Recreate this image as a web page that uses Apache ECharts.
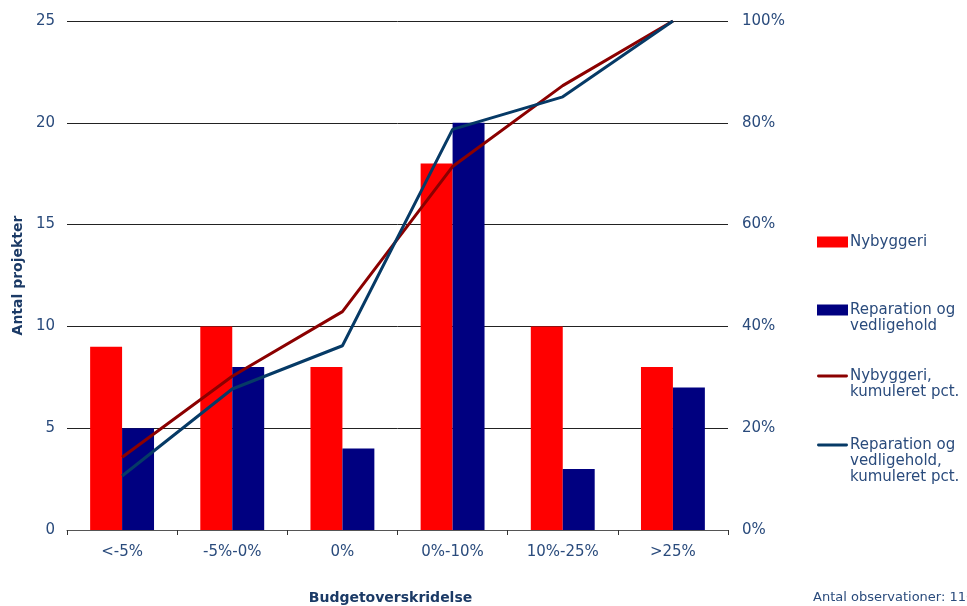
<!DOCTYPE html>
<html><head><meta charset="utf-8">
<script src="https://cdn.jsdelivr.net/npm/echarts@6/dist/echarts.min.js"></script>
<style>html,body{margin:0;padding:0;background:#fff}#c{width:967px;height:606px}</style>
</head><body><div id="c"></div>
<script>
const categories = ['<-5%', '-5%-0%', '0%', '0%-10%', '10%-25%', '>25%'];
const nybyggeri = [9, 10, 8, 18, 10, 8];
const reparation = [5, 8, 4, 20, 3, 7];
const nybyggeriKum = [14.3, 30.2, 42.9, 71.4, 87.3, 100];
const reparationKum = [10.6, 27.7, 36.2, 78.7, 85.1, 100];
const leftTicks = {min: 0, max: 25, interval: 5};
const rightTicks = {min: 0, max: 100, interval: 20};

const txt = '#2A4B7C';
const dark = '#1B3A66';
const font = 'DejaVu Sans';
const chart = echarts.init(document.getElementById('c'));

const lineIcon = 'path://M1,4 L30,4 A1.5,1.5 0 0 1 30,7 L1,7 A1.5,1.5 0 0 1 1,4 Z M0,0 L0,0 M31,11 L31,11';
function leg(name, top, lines, icon) {
  const pre = '\n'.repeat(lines.length - 1);
  return {
    left: 817, top: top, orient: 'vertical', padding: 0,
    data: [{name: name, icon: icon}],
    itemWidth: 31, itemHeight: 11, itemGap: 0,
    formatter: () => pre + lines.join('\n'),
    textStyle: {color: txt, fontFamily: font, fontSize: 15, lineHeight: 16, padding: [0, 0, 0, -3]},
    selectedMode: false
  };
}

chart.setOption({
  animation: false,
  textStyle: {fontFamily: font},
  grid: {left: 67, right: 239, top: 21, bottom: 76, outerBoundsMode: 'none', containLabel: false},
  legend: [
    leg('Nybyggeri', 234, ['Nybyggeri'], 'rect'),
    leg('Reparation og vedligehold', 286, ['Reparation og', 'vedligehold'], 'rect'),
    leg('Nybyggeri, kumuleret pct.', 352, ['Nybyggeri,', 'kumuleret pct.'], lineIcon),
    leg('Reparation og vedligehold, kumuleret pct.', 405, ['Reparation og', 'vedligehold,', 'kumuleret pct.'], lineIcon)
  ],
  xAxis: {
    type: 'category', data: categories,
    name: 'Budgetoverskridelse', nameLocation: 'middle', nameGap: 61,
    nameTextStyle: {color: dark, fontWeight: 'bold', fontSize: 14, fontFamily: font, padding: [0, 14, 0, 0]},
    axisLine: {lineStyle: {color: '#555', width: 1}},
    axisTick: {show: true, length: 5, lineStyle: {color: '#333'}},
    axisLabel: {color: txt, fontSize: 15, margin: 15, fontFamily: font}
  },
  yAxis: [{
    type: 'value', min: leftTicks.min, max: leftTicks.max, interval: leftTicks.interval,
    name: 'Antal projekter', nameLocation: 'middle', nameGap: 40, nameRotate: 90,
    nameTextStyle: {color: dark, fontWeight: 'bold', fontSize: 14, fontFamily: font},
    axisLine: {show: false}, axisTick: {show: false},
    axisLabel: {color: txt, fontSize: 15, margin: 12, fontFamily: font},
    splitLine: {lineStyle: {color: '#222', width: 1}}
  }, {
    type: 'value', min: rightTicks.min, max: rightTicks.max, interval: rightTicks.interval,
    axisLine: {show: false}, axisTick: {show: false},
    axisLabel: {color: txt, fontSize: 15, margin: 14, fontFamily: font, formatter: '{value}%'},
    splitLine: {show: false}
  }],
  series: [
    {name: 'Nybyggeri', type: 'bar', data: nybyggeri, itemStyle: {color: '#FF0000'}, barGap: '0%', barCategoryGap: '42%'},
    {name: 'Reparation og vedligehold', type: 'bar', data: reparation, itemStyle: {color: '#000080'}},
    {name: 'Nybyggeri, kumuleret pct.', type: 'line', yAxisIndex: 1, data: nybyggeriKum, symbol: 'none',
     lineStyle: {color: '#8B0000', width: 3}, itemStyle: {color: '#8B0000'}, z: 5},
    {name: 'Reparation og vedligehold, kumuleret pct.', type: 'line', yAxisIndex: 1, data: reparationKum, symbol: 'none',
     lineStyle: {color: '#063A66', width: 3}, itemStyle: {color: '#063A66'}, z: 6}
  ],
  graphic: [{
    type: 'text', left: 813, top: 591,
    style: {text: 'Antal observationer: 110', fill: txt, font: '13px "DejaVu Sans"'}
  }]
});
</script></body></html>
